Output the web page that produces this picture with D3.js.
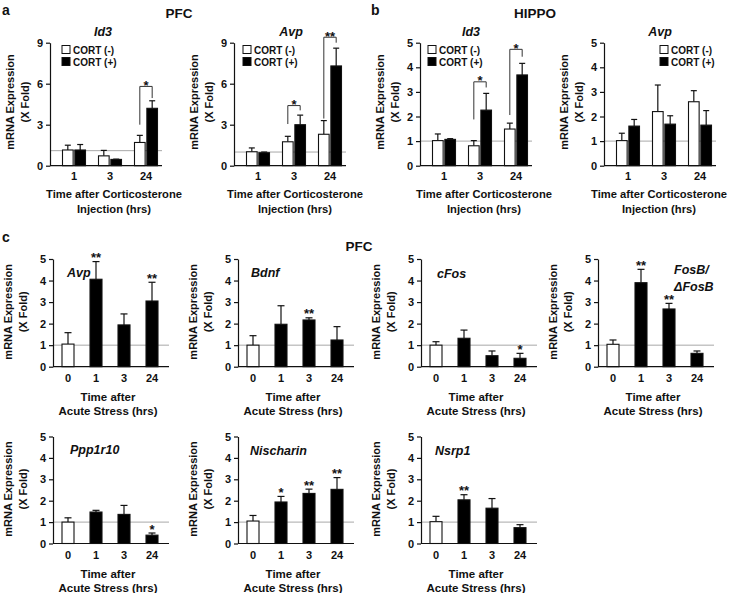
<!DOCTYPE html>
<html><head><meta charset="utf-8">
<script src="https://cdn.jsdelivr.net/npm/d3@7"></script>
<style>
body{margin:0;background:#fff}
svg{display:block}
text{font-family:"Liberation Sans",Arial,Helvetica,sans-serif;font-weight:bold;fill:#111}
</style>
</head><body>
<svg id="chart" width="729" height="593"></svg>
<script>
// ---------- DATA ----------
const cortTimes = ["1", "3", "24"];
const cortTicks9 = [0, 3, 6, 9];
const cortTicks5 = [0, 1, 2, 3, 4, 5];
const legendLabels = ["CORT (-)", "CORT (+)"];

// Panel a, PFC
const aId3Minus = [1.15, 0.72, 1.7];
const aId3MinusSem = [0.35, 0.4, 0.52];
const aId3Plus = [1.15, 0.46, 4.2];
const aId3PlusSem = [0.4, 0.02, 0.55];
const aId3Ref = 1.1;
const aId3Brackets = [{time: "24", level: 5.8, left: 3.0, right: 4.95, label: "*"}];

const aAvpMinus = [1.02, 1.75, 2.3];
const aAvpMinusSem = [0.28, 0.4, 1.0];
const aAvpPlus = [0.95, 3.0, 7.3];
const aAvpPlusSem = [0.05, 0.7, 1.3];
const aAvpRef = 1.0;
const aAvpBrackets = [
  {time: "3", level: 4.4, left: 3.05, right: 4.05, label: "*"},
  {time: "24", level: 9.4, left: 3.45, right: 9.0, label: "**"}
];

// Panel b, HIPPO
const bId3Minus = [1.02, 0.81, 1.49];
const bId3MinusSem = [0.27, 0.21, 0.24];
const bId3Plus = [1.07, 2.26, 3.69];
const bId3PlusSem = [0.03, 0.68, 0.47];
const bId3Ref = 1.0;
const bId3Brackets = [
  {time: "3", level: 3.41, left: 1.88, right: 3.18, label: "*"},
  {time: "24", level: 4.73, left: 2.06, right: 4.43, label: "*"}
];

const bAvpMinus = [1.02, 2.2, 2.6];
const bAvpMinusSem = [0.3, 1.08, 0.45];
const bAvpPlus = [1.61, 1.69, 1.65];
const bAvpPlusSem = [0.27, 0.34, 0.59];
const bAvpRef = 1.0;

// Panel c, PFC acute stress
const stressTimes = ["0", "1", "3", "24"];
const stressTicks = [0, 1, 2, 3, 4, 5];

const cAvp = [1.05, 4.06, 1.94, 3.05];
const cAvpSem = [0.53, 0.82, 0.51, 0.87];
const cAvpSig = ["", "**", "", "**"];

const cBdnf = [1.0, 1.97, 2.17, 1.24];
const cBdnfSem = [0.44, 0.86, 0.1, 0.62];
const cBdnfSig = ["", "", "**", ""];

const cFos = [1.0, 1.32, 0.51, 0.39];
const cFosSem = [0.16, 0.38, 0.22, 0.23];
const cFosSig = ["", "", "", "*"];

const cFosB = [1.04, 3.9, 2.68, 0.62];
const cFosBSem = [0.2, 0.62, 0.26, 0.11];
const cFosBSig = ["", "**", "**", ""];

const cPpp1r10 = [1.0, 1.47, 1.36, 0.39];
const cPpp1r10Sem = [0.2, 0.08, 0.42, 0.1];
const cPpp1r10Sig = ["", "", "", "*"];

const cNischarin = [1.05, 1.94, 2.34, 2.53];
const cNischarinSem = [0.26, 0.26, 0.2, 0.55];
const cNischarinSig = ["", "*", "**", "**"];

const cNsrp1 = [1.02, 2.04, 1.65, 0.74];
const cNsrp1Sem = [0.25, 0.24, 0.45, 0.14];
const cNsrp1Sig = ["", "**", "", ""];

// ---------- DRAWING ----------
const svg = d3.select("#chart");
const GREY = "#a8a8a8";

function yAxisTitle(g, x0, yMid, off1, off2) {
  g.append("text").attr("transform", `translate(${x0 + off1},${yMid}) rotate(-90)`)
    .attr("text-anchor", "middle").attr("font-size", 11).text("mRNA Expression");
  g.append("text").attr("transform", `translate(${x0 + off2},${yMid}) rotate(-90)`)
    .attr("text-anchor", "middle").attr("font-size", 11).text("(X Fold)");
}

function drawYAxis(g, y, x0, ticks) {
  const ax = g.append("g").attr("transform", `translate(${x0},0)`)
    .call(d3.axisLeft(y).tickValues(ticks).tickFormat(d3.format("d")).tickSize(4).tickSizeOuter(0).tickPadding(3));
  ax.select(".domain").attr("stroke", "#111").attr("stroke-width", 1.2);
  ax.selectAll(".tick line").attr("stroke", "#111").attr("stroke-width", 1.2);
  ax.selectAll(".tick text").attr("font-size", 11).attr("font-family", null).attr("fill", "#111");
}

function cortPanel(cfg) {
  const g = svg.append("g");
  const W = 112;
  const y = d3.scaleLinear().domain([0, cfg.yMax]).range([cfg.yBottom, cfg.yTop]);
  const x = d3.scaleBand().domain(cortTimes).range([cfg.x0 + 6, cfg.x0 + 114]);
  const xs = d3.scaleBand().domain(["minus", "plus"]).range([0, 23]).paddingInner(0.14);
  const center = t => x(t) + x.bandwidth() / 2;
  const barX = (t, k) => center(t) - 11.5 + xs(k);
  const barMid = (t, k) => barX(t, k) + xs.bandwidth() / 2;

  g.append("line").attr("x1", cfg.x0).attr("x2", cfg.x0 + W)
    .attr("y1", y(cfg.ref)).attr("y2", y(cfg.ref)).attr("stroke", GREY).attr("stroke-width", 1);

  const rows = [];
  cortTimes.forEach((t, i) => {
    rows.push({t, k: "minus", v: cfg.minus[i], e: cfg.minusSem[i]});
    rows.push({t, k: "plus", v: cfg.plus[i], e: cfg.plusSem[i]});
  });
  const eb = g.selectAll("g.eb").data(rows).join("g");
  eb.append("line").attr("x1", d => barMid(d.t, d.k)).attr("x2", d => barMid(d.t, d.k))
    .attr("y1", d => y(d.v)).attr("y2", d => y(d.v + d.e)).attr("stroke", "#111").attr("stroke-width", 1.2);
  eb.append("line").attr("x1", d => barMid(d.t, d.k) - 3).attr("x2", d => barMid(d.t, d.k) + 3)
    .attr("y1", d => y(d.v + d.e)).attr("y2", d => y(d.v + d.e)).attr("stroke", "#111").attr("stroke-width", 1.2);
  g.selectAll("rect.bar").data(rows).join("rect")
    .attr("x", d => barX(d.t, d.k)).attr("width", xs.bandwidth())
    .attr("y", d => y(d.v)).attr("height", d => y(0) - y(d.v))
    .attr("fill", d => d.k === "minus" ? "#fff" : "#000")
    .attr("stroke", "#111").attr("stroke-width", 1.1);

  g.append("line").attr("x1", cfg.x0).attr("x2", cfg.x0 + W)
    .attr("y1", y(0)).attr("y2", y(0)).attr("stroke", "#111").attr("stroke-width", 1.2);
  drawYAxis(g, y, cfg.x0, cfg.ticks);

  (cfg.brackets || []).forEach(b => {
    const lx = barMid(b.time, "minus"), rx = barMid(b.time, "plus");
    g.append("path").attr("d", `M${lx},${y(b.left)}V${y(b.level)}H${rx}V${y(b.right)}`)
      .attr("fill", "none").attr("stroke", "#333").attr("stroke-width", 1);
    g.append("text").attr("x", (lx + rx) / 2).attr("y", y(b.level) + 3.5)
      .attr("text-anchor", "middle").attr("font-size", 13).text(b.label);
  });

  g.selectAll("text.xt").data(cortTimes).join("text")
    .attr("x", center).attr("y", cfg.yBottom + 14.5)
    .attr("text-anchor", "middle").attr("font-size", 11).text(d => d);
  g.append("text").attr("x", cfg.x0 + cfg.xTitleDx).attr("y", 198).attr("text-anchor", "middle")
    .attr("font-size", 11.2).text("Time after Corticosterone");
  g.append("text").attr("x", cfg.x0 + cfg.xTitleDx).attr("y", 213).attr("text-anchor", "middle")
    .attr("font-size", 11.2).text("Injection (hrs)");
  g.append("text").attr("x", cfg.x0 + cfg.titleDx).attr("y", 36).attr("text-anchor", "middle")
    .attr("font-size", 12.5).attr("font-style", "italic").text(cfg.title);
  legendLabels.forEach((lab, i) => {
    g.append("rect").attr("x", cfg.x0 + cfg.legDx).attr("y", 45.5 + i * 12).attr("width", 8).attr("height", 8)
      .attr("fill", i === 0 ? "#fff" : "#000").attr("stroke", "#111").attr("stroke-width", 1);
    g.append("text").attr("x", cfg.x0 + cfg.legDx + 11).attr("y", 53.5 + i * 12)
      .attr("font-size", 10).text(lab);
  });
  yAxisTitle(g, cfg.x0, 102, -36, -21);
}

function stressPanel(cfg) {
  const g = svg.append("g");
  const W = 116;
  const y = d3.scaleLinear().domain([0, 5]).range([cfg.yBottom, cfg.yTop]);
  const x = d3.scaleBand().domain(stressTimes).range([cfg.x0 + 1, cfg.x0 + 113]);
  const bw = 12;
  const center = t => x(t) + x.bandwidth() / 2;
  const rows = stressTimes.map((t, i) => ({t, i, v: cfg.vals[i], e: cfg.sem[i], s: cfg.sig[i]}));

  g.append("line").attr("x1", cfg.x0).attr("x2", cfg.x0 + W)
    .attr("y1", y(1)).attr("y2", y(1)).attr("stroke", GREY).attr("stroke-width", 1);

  const eb = g.selectAll("g.eb").data(rows).join("g");
  eb.append("line").attr("x1", d => center(d.t)).attr("x2", d => center(d.t))
    .attr("y1", d => y(d.v)).attr("y2", d => y(d.v + d.e)).attr("stroke", "#111").attr("stroke-width", 1.2);
  eb.append("line").attr("x1", d => center(d.t) - 3.5).attr("x2", d => center(d.t) + 3.5)
    .attr("y1", d => y(d.v + d.e)).attr("y2", d => y(d.v + d.e)).attr("stroke", "#111").attr("stroke-width", 1.2);

  g.selectAll("rect.bar").data(rows).join("rect")
    .attr("x", d => center(d.t) - bw / 2).attr("width", bw)
    .attr("y", d => y(d.v)).attr("height", d => y(0) - y(d.v))
    .attr("fill", d => d.i === 0 ? "#fff" : "#000")
    .attr("stroke", "#111").attr("stroke-width", 1.1);

  g.selectAll("text.sig").data(rows.filter(d => d.s)).join("text")
    .attr("x", d => center(d.t)).attr("y", d => y(d.v + d.e) + 0.5)
    .attr("text-anchor", "middle").attr("font-size", 13).text(d => d.s);

  g.append("line").attr("x1", cfg.x0).attr("x2", cfg.x0 + W)
    .attr("y1", y(0)).attr("y2", y(0)).attr("stroke", "#111").attr("stroke-width", 1.2);
  drawYAxis(g, y, cfg.x0, stressTicks);

  g.selectAll("text.xt").data(stressTimes).join("text")
    .attr("x", center).attr("y", cfg.yBottom + 15.5)
    .attr("text-anchor", "middle").attr("font-size", 11).text(d => d);
  g.append("text").attr("x", cfg.x0 + 55).attr("y", cfg.yBottom + 34.5).attr("text-anchor", "middle")
    .attr("font-size", 11.5).text("Time after");
  g.append("text").attr("x", cfg.x0 + 55).attr("y", cfg.yBottom + 48.5).attr("text-anchor", "middle")
    .attr("font-size", 11.5).text("Acute Stress (hrs)");

  cfg.title.forEach((line, i) => {
    g.append("text").attr("x", cfg.x0 + cfg.titleDx).attr("y", cfg.yTop + cfg.titleDy + i * 17)
      .attr("font-size", 12.5).attr("font-style", "italic").text(line);
  });
  yAxisTitle(g, cfg.x0, (cfg.yTop + cfg.yBottom) / 2 - 1, -41, -26);
}

const head = (x, y, t, anchor, size) => svg.append("text").attr("x", x).attr("y", y)
  .attr("text-anchor", anchor).attr("font-size", size).text(t);
head(2, 15, "a", "start", 14);
head(371, 15, "b", "start", 14);
head(2, 242, "c", "start", 14);
head(179, 18, "PFC", "middle", 13.5);
head(535, 18, "HIPPO", "middle", 13.5);
head(359, 251, "PFC", "middle", 13.5);

const topY = {yTop: 42.7, yBottom: 165.7};
cortPanel({...topY, x0: 50, yMax: 9, ticks: cortTicks9, minus: aId3Minus, minusSem: aId3MinusSem,
  plus: aId3Plus, plusSem: aId3PlusSem, ref: aId3Ref, brackets: aId3Brackets, title: "Id3", titleDx: 53, legDx: 12, xTitleDx: 64});
cortPanel({...topY, x0: 234, yMax: 9, ticks: cortTicks9, minus: aAvpMinus, minusSem: aAvpMinusSem,
  plus: aAvpPlus, plusSem: aAvpPlusSem, ref: aAvpRef, brackets: aAvpBrackets, title: "Avp", titleDx: 57, legDx: 9, xTitleDx: 61});
cortPanel({...topY, x0: 420, yMax: 5, ticks: cortTicks5, minus: bId3Minus, minusSem: bId3MinusSem,
  plus: bId3Plus, plusSem: bId3PlusSem, ref: bId3Ref, brackets: bId3Brackets, title: "Id3", titleDx: 51, legDx: 8, xTitleDx: 64});
cortPanel({...topY, x0: 604, yMax: 5, ticks: cortTicks5, minus: bAvpMinus, minusSem: bAvpMinusSem,
  plus: bAvpPlus, plusSem: bAvpPlusSem, ref: bAvpRef, brackets: [], title: "Avp", titleDx: 56, legDx: 56, xTitleDx: 55});

const row1 = {yTop: 259, yBottom: 366.7};
const row2 = {yTop: 436.5, yBottom: 543.5};
stressPanel({...row1, x0: 53, vals: cAvp, sem: cAvpSem, sig: cAvpSig, title: ["Avp"], titleDx: 14, titleDy: 18});
stressPanel({...row1, x0: 238, vals: cBdnf, sem: cBdnfSem, sig: cBdnfSig, title: ["Bdnf"], titleDx: 13, titleDy: 18});
stressPanel({...row1, x0: 421, vals: cFos, sem: cFosSem, sig: cFosSig, title: ["cFos"], titleDx: 16, titleDy: 19});
stressPanel({...row1, x0: 598, vals: cFosB, sem: cFosBSem, sig: cFosBSig, title: ["FosB/", "ΔFosB"], titleDx: 76, titleDy: 15});
stressPanel({...row2, x0: 53, vals: cPpp1r10, sem: cPpp1r10Sem, sig: cPpp1r10Sig, title: ["Ppp1r10"], titleDx: 17, titleDy: 17});
stressPanel({...row2, x0: 238, vals: cNischarin, sem: cNischarinSem, sig: cNischarinSig, title: ["Nischarin"], titleDx: 12, titleDy: 18});
stressPanel({...row2, x0: 421, vals: cNsrp1, sem: cNsrp1Sem, sig: cNsrp1Sig, title: ["Nsrp1"], titleDx: 14, titleDy: 18});
</script>
</body></html>
